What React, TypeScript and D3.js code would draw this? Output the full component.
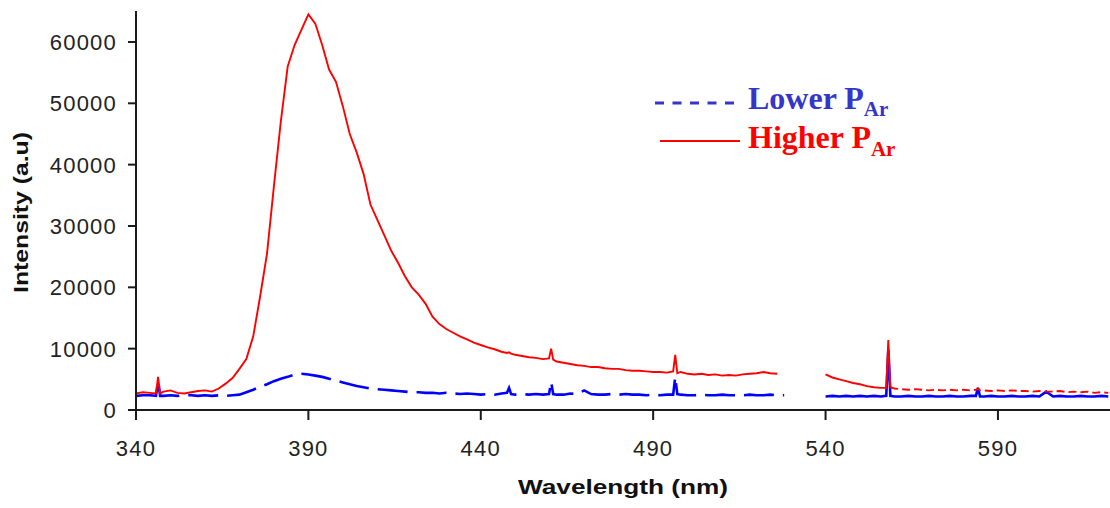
import React from "react";
import * as d3 from "d3";

// Shared wavelength grid (nm); null = no reading
const wavelengths: number[] = [
  340, 342, 344, 345.8, 346.4, 347, 348, 350, 352, 354, 356, 358, 360, 362, 364, 366, 368, 370,
  372, 374, 376, 378, 380, 382, 384, 386, 388, 390, 392, 394, 396, 398, 400, 402, 404, 406, 408,
  410, 412, 414, 416, 418, 420, 422, 424, 426, 428, 430, 432, 434, 436, 438, 440, 442, 444, 446,
  447.6, 448.2, 448.8, 450, 452, 454, 456, 458, 459.8, 460.4, 461, 462, 464, 466, 468, 470, 472,
  474, 476, 478, 480, 482, 484, 486, 488, 490, 492, 494, 495.8, 496.4, 497, 498, 500, 502, 504,
  506, 508, 510, 512, 514, 516, 518, 520, 522, 524, 526, 528, 534,
  540, 542, 544, 546, 548, 550, 552, 554, 556, 557.6, 558.2, 558.8, 560, 562, 564, 566, 568, 570,
  572, 574, 576, 578, 580, 582, 583.6, 584.2, 584.8, 586, 588, 590, 592, 594, 596, 598, 600, 602,
  604, 606, 608, 610, 612, 614, 616, 618, 620, 622,
];

const higherPAr: (number | null)[] = [
  2700, 2900, 2800, 2700, 5400, 2700, 3000, 3200, 2800, 2700, 2900, 3100, 3200, 3000, 3500, 4300, 5200, 6700,
  8300, 12000, 18500, 25500, 36500, 47000, 56000, 59500, 62000, 64500, 63000, 59500, 55500, 53500, 49500, 45000, 42000, 38500, 33500,
  31000, 28500, 26000, 24000, 21800, 20000, 18800, 17300, 15200, 14000, 13200, 12600, 12000, 11500, 11000, 10600, 10200, 9900, 9500,
  9300, 9400, 9200, 9000, 8800, 8600, 8500, 8300, 8400, 10000, 8200, 7900, 7700, 7500, 7300, 7200, 7000,
  7000, 6800, 6700, 6700, 6500, 6400, 6400, 6300, 6200, 6200, 6100, 6300, 9000, 6000, 6200, 5900, 5800, 5900,
  5700, 5800, 5600, 5700, 5600, 5800, 5900, 6000, 6200, 6000, 5900, null, null,
  5800, 5300, 5000, 4700, 4400, 4200, 3900, 3700, 3600, 3600, 11400, 3700, 3500, 3400, 3300, 3400, 3300, 3200,
  3300, 3200, 3300, 3200, 3300, 3200, 3300, 3500, 3200, 3200, 3100, 3200, 3100, 3200, 3100, 3100, 3000, 3100,
  3000, 3000, 3100, 2900, 3000, 2900, 3000, 2800, 2900, 2800,
];

const lowerPAr: (number | null)[] = [
  2300, 2400, 2400, 2300, 4700, 2300, 2300, 2400, 2300, 2400, 2400, 2300, 2400, 2300, 2400, 2300, 2400, 2500,
  2900, 3300, 3800, 4200, 4700, 5100, 5400, 5800, 5900, 5800, 5600, 5400, 5100, 4800, 4500, 4200, 3900, 3700, 3500,
  3400, 3300, 3200, 3100, 3000, 2900, 2900, 2800, 2800, 2700, 2800, 2700, 2600, 2700, 2600, 2500, 2600, 2500, 2700,
  2800, 3600, 2600, 2500, 2600, 2500, 2600, 2500, 2600, 4600, 2600, 2500, 2500, 2700, 2600, 3200, 2600,
  2500, 2500, 2600, 2500, 2600, 2500, 2500, 2400, 2500, 2400, 2500, 2500, 5400, 2600, 2500, 2400, 2400, 2500,
  2400, 2400, 2500, 2400, 2400, 2400, 2500, 2400, 2400, 2500, 2400, 2400, null,
  2200, 2300, 2200, 2300, 2200, 2300, 2200, 2300, 2200, 2300, 9800, 2300, 2200, 2200, 2300, 2200, 2200, 2300,
  2200, 2200, 2300, 2200, 2200, 2300, 2300, 3600, 2200, 2200, 2300, 2200, 2200, 2300, 2200, 2200, 2300, 2200,
  3000, 2200, 2300, 2200, 2200, 2300, 2200, 2200, 2300, 2200,
];

const xTicks: number[] = [340, 390, 440, 490, 540, 590];
const yTicks: number[] = [0, 10000, 20000, 30000, 40000, 50000, 60000];

const W = 1110;
const H = 508;

type Pt = { w: number; v: number | null };

export default function App() {
  const x = d3.scaleLinear().domain([340, 622.5]).range([136, 1110]);
  const y = d3.scaleLinear().domain([0, 65000]).range([410, 11.3]);

  const red: Pt[] = wavelengths.map((w, i) => ({ w, v: higherPAr[i] }));
  const blue: Pt[] = wavelengths.map((w, i) => ({ w, v: lowerPAr[i] }));

  const line = d3
    .line<Pt>()
    .defined((d) => d.v != null)
    .x((d) => x(d.w))
    .y((d) => y(d.v as number));

  const redA = red.filter((d) => d.w < 559);
  const redB = red.filter((d) => d.w >= 558.8);
  const blueA = blue.filter((d) => d.w < 535);
  const blueB = blue.filter((d) => d.w > 535);

  const tickFont = "'Liberation Sans', Arial, sans-serif";
  const axisColor = "#1a1a1a";

  return (
    <svg
      width={W}
      height={H}
      style={{ position: "absolute", left: 0, top: 0, background: "#fff" }}
    >
      <rect x={0} y={0} width={W} height={H} fill="#fff" />
      <defs>
        <clipPath id="plot">
          <rect x={136} y={0} width={W - 136} height={412} />
        </clipPath>
      </defs>

      <g clipPath="url(#plot)">
        <path d={line(blueA) ?? ""} fill="none" stroke="#0000ff" strokeWidth={2.6} strokeDasharray="30,9" />
        <path d={line(blueB) ?? ""} fill="none" stroke="#0000ff" strokeWidth={2.6} />
        <path d={line(redA) ?? ""} fill="none" stroke="#ff0000" strokeWidth={1.9} />
        <path d={line(redB) ?? ""} fill="none" stroke="#ff0000" strokeWidth={1.9} strokeDasharray="8,4" />
      </g>

      {/* Axes */}
      <line x1={136} x2={136} y1={11} y2={420} stroke={axisColor} strokeWidth={2} />
      <line x1={128} x2={1110} y1={410} y2={410} stroke={axisColor} strokeWidth={2} />
      {yTicks.map((t) => (
        <g key={"y" + t}>
          <line x1={128} x2={136} y1={y(t)} y2={y(t)} stroke={axisColor} strokeWidth={2} />
          <text
            x={117}
            y={y(t)}
            dy="0.36em"
            textAnchor="end"
            fontFamily={tickFont}
            fontSize={22}
            letterSpacing={1.2}
            fill="#222"
          >
            {t}
          </text>
        </g>
      ))}
      {xTicks.map((t) => (
        <g key={"x" + t}>
          <line x1={x(t)} x2={x(t)} y1={410} y2={420} stroke={axisColor} strokeWidth={2} />
          <text
            x={x(t)}
            y={456}
            textAnchor="middle"
            fontFamily={tickFont}
            fontSize={22}
            letterSpacing={1.2}
            fill="#222"
          >
            {t}
          </text>
        </g>
      ))}

      {/* Axis titles */}
      <text
        x={623}
        y={494}
        textAnchor="middle"
        fontFamily={tickFont}
        fontWeight="bold"
        fontSize={20}
        textLength={210}
        lengthAdjust="spacingAndGlyphs"
        fill="#111"
      >
        Wavelength (nm)
      </text>
      <text
        transform="translate(28,212.5) rotate(-90)"
        textAnchor="middle"
        fontFamily={tickFont}
        fontWeight="bold"
        fontSize={20}
        textLength={161}
        lengthAdjust="spacingAndGlyphs"
        fill="#111"
      >
        Intensity (a.u)
      </text>

      {/* Legend */}
      <line x1={655} x2={740} y1={103} y2={103} stroke="#3535cc" strokeWidth={3} strokeDasharray="9,8.5" />
      <text x={748} y={109} fontFamily="'Liberation Serif', 'Times New Roman', serif" fontWeight="bold" fontSize={32} fill="#3535cc">
        Lower P
        <tspan fontSize={21} dy={7}>Ar</tspan>
      </text>
      <line x1={660} x2={740} y1={141} y2={141} stroke="#ff0000" strokeWidth={2} />
      <text x={748} y={148} fontFamily="'Liberation Serif', 'Times New Roman', serif" fontWeight="bold" fontSize={32} fill="#ff0000">
        Higher P
        <tspan fontSize={21} dy={8}>Ar</tspan>
      </text>
    </svg>
  );
}
